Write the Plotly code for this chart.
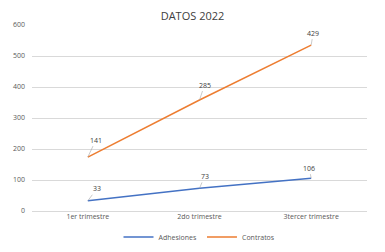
import numpy as np
import plotly.graph_objects as go

categories = ["1er trimestre", "2do trimestre", "3tercer trimestre"]
adhesiones = [33, 73, 106]
contratos = [141, 285, 429]
y_ticks = [0, 100, 200, 300, 400, 500, 600]

# stacked line chart: Contratos stacked on top of Adhesiones
cum_adh = np.array(adhesiones)
cum_con = cum_adh + np.array(contratos)

BLUE = "#4472C4"
ORANGE = "#ED7D31"
GREY = "#595959"

fig = go.Figure()
fig.add_trace(go.Scatter(x=categories, y=cum_adh, mode="lines", name="Adhesiones",
                         line=dict(color=BLUE, width=1.5)))
fig.add_trace(go.Scatter(x=categories, y=cum_con, mode="lines", name="Contratos",
                         line=dict(color=ORANGE, width=1.5)))

adh_offsets = [(9, -12), (5, -12), (-2, -10)]
con_offsets = [(8, -17), (5, -15), (2, -12)]
for i, c in enumerate(categories):
    for val, cum, (ax, ay) in ((adhesiones[i], cum_adh[i], adh_offsets[i]),
                               (contratos[i], cum_con[i], con_offsets[i])):
        fig.add_annotation(x=c, y=cum, text=str(val), showarrow=True, arrowhead=0,
                           arrowwidth=0.6, arrowcolor="#a6a6a6", ax=ax, ay=ay,
                           standoff=0, startstandoff=0,
                           font=dict(size=7, color="#404040"))

fig.update_layout(
    width=385, height=252,
    margin=dict(l=32, r=18, t=25, b=41, autoexpand=False),
    paper_bgcolor="white", plot_bgcolor="white",
    font=dict(family="Open Sans, Liberation Sans, sans-serif", size=7, color=GREY),
    title=dict(text="DATOS 2022", x=0.5, xanchor="center", y=0.935, yanchor="middle",
               font=dict(size=11, color="#404040")),
    showlegend=True,
    legend=dict(orientation="h", x=0.5, xanchor="center", yref="container", y=0.06,
                yanchor="middle", font=dict(size=7, color=GREY), itemwidth=30,
                tracegroupgap=0),
    xaxis=dict(range=[-0.5, 2.5], showgrid=False, showline=False, ticks="",
               tickfont=dict(size=7, color=GREY)),
    yaxis=dict(range=[0, 600], tickvals=y_ticks, showgrid=True, gridcolor="#d9d9d9",
               gridwidth=0.8, zeroline=True, zerolinecolor="#d9d9d9", zerolinewidth=0.8,
               showline=False, ticks="", tickfont=dict(size=7, color=GREY), ticklabelstandoff=6),
)
fig.write_html("out.html")
